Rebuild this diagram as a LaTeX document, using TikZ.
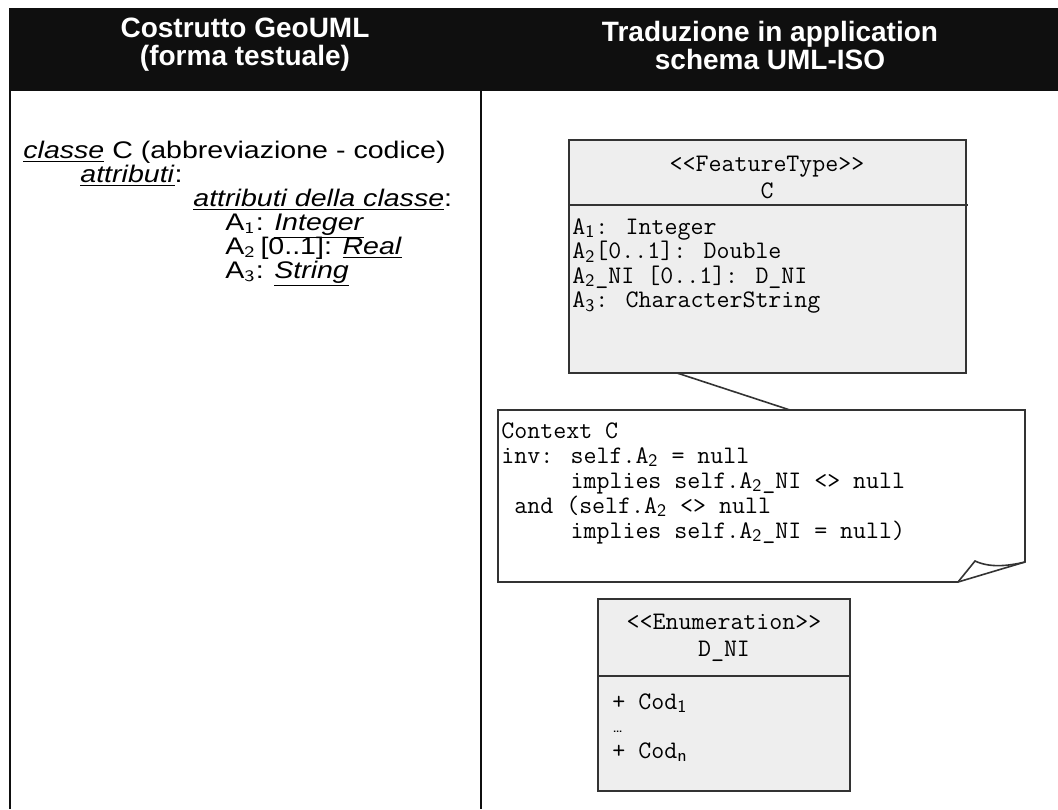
\documentclass[tikz,border=0pt]{standalone}
\usepackage{fontspec}
\setmainfont{Liberation Sans}
\usepackage{xcolor}
\definecolor{hdrblack}{RGB}{15,15,15}
\definecolor{umlgray}{RGB}{238,238,238}
\definecolor{umlline}{RGB}{51,51,51}
\usetikzlibrary{positioning, calc}

\tikzset{
  hdrtext/.style={text=white, font=\bfseries\fontsize{14}{14}\selectfont, align=center},
  geotext/.style={anchor=base west, inner sep=0pt, font=\fontsize{12}{14}\selectfont},
  monotext/.style={anchor=base west, inner sep=0pt, font=\ttfamily\fontsize{12.6}{14}\selectfont},
  monomid/.style={anchor=base, inner sep=0pt, font=\ttfamily\fontsize{12.6}{14}\selectfont},
  umlbox/.style={draw=umlline, fill=umlgray, line width=0.8pt},
  notebox/.style={draw=umlline, fill=white, line width=0.8pt},
}
\newcommand{\ul}[1]{\underline{\textit{#1}}}
\newcommand{\sub}[1]{\textsubscript{\sffamily #1}}
\newcommand{\wide}[1]{\scalebox{1.19}[1]{#1}}

\begin{document}
\begin{tikzpicture}[x=0.5pt, y=-0.5pt]
  \useasboundingbox (0,0) rectangle (1058,809);
  % Header band
  \fill[hdrblack] (9,8) rectangle (1058,91);
  \node[hdrtext] (hleft) at (245,45) {Costrutto GeoUML\\(forma testuale)};
  \node[hdrtext] (hright) at (770,45) {Traduzione in application\\schema UML-ISO};
  % Column rules
  \draw[hdrblack, line width=1pt] (10,91) -- (10,809);
  \draw[hdrblack, line width=1pt] (481,91) -- (481,809);

  % GeoUML textual form
  \node[geotext] (cls) at (23,158) {\wide{\ul{classe} C (abbreviazione - codice)}};
  \node[geotext] (att) at (80,182) {\wide{\ul{attributi}:}};
  \node[geotext] (attc) at (193,206) {\wide{\ul{attributi della classe}:}};
  \node[geotext] (a1) at (225,230) {\wide{A\sub{1}: \ul{Integer}}};
  \node[geotext] (a2) at (225,254) {\wide{A\sub{2}\,[0..1]: \ul{Real}}};
  \node[geotext] (a3) at (225,278) {\wide{A\sub{3}: \ul{String}}};

  % FeatureType class
  \draw[umlbox] (569,140) rectangle (966,373);
  \draw[umlline, line width=0.8pt] (569,205) -- (968,205);
  \node[monomid] (ftst) at (767,171) {<<FeatureType>>};
  \node[monomid] (ftname) at (767,198) {C};
  \node[monotext] (fa1) at (572,234) {A\sub{1}: Integer};
  \node[monotext] (fa2) at (572,258.5) {A\sub{2}[0..1]: Double};
  \node[monotext] (fa2ni) at (572,283) {A\sub{2}\_NI [0..1]: D\_NI};
  \node[monotext] (fa3) at (572,307.5) {A\sub{3}: CharacterString};

  % OCL note with folded corner
  \draw[notebox] (498,410) -- (1025,410) -- (1025,562) -- (958,582) -- (498,582) -- cycle;
  \draw[umlline, line width=0.8pt] (958,582) -- (975,561)
    .. controls (990,568) and (1008,566) .. (1025,562);
  \coordinate (lnkA) at (677,373);
  \coordinate (lnkB) at (790,410);
  \draw[umlline, line width=0.8pt] (lnkA) -- (lnkB);
  \node[monotext] (n1) at (501,438) {Context C};
  \node[monotext] (n2) at (501,463) {inv: self.A\sub{2} = null};
  \node[monotext] (n3) at (501,488) {\hphantom{inv: }implies self.A\sub{2}\_NI <> null};
  \node[monotext] (n4) at (501,513) {\hphantom{x}and (self.A\sub{2} <> null};
  \node[monotext] (n5) at (501,538) {\hphantom{inv: }implies self.A\sub{2}\_NI = null)};

  % Enumeration D_NI
  \draw[umlbox] (598,599) rectangle (850,791);
  \draw[umlline, line width=0.8pt] (598,676) -- (850,676);
  \node[monomid] (enst) at (724,629) {<<Enumeration>>};
  \node[monomid] (enname) at (724,656) {D\_NI};
  \node[monotext] (c1) at (612,709) {+ Cod\sub{1}};
  \node[monotext] (cdots) at (612,732) {{\sffamily\fontsize{8}{9}\selectfont\textellipsis}};
  \node[monotext] (cn) at (612,758) {+ Cod\sub{n}};
\end{tikzpicture}
\end{document}
